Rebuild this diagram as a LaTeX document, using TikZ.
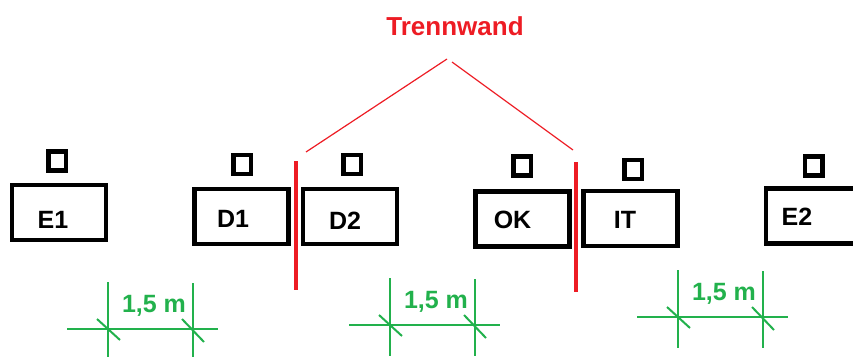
\documentclass[tikz,border=0pt]{standalone}
\usepackage{fontspec}
\setmainfont{Liberation Sans}
\definecolor{wandrot}{RGB}{237,28,36}
\definecolor{massgruen}{RGB}{34,177,76}

\begin{document}
\begin{tikzpicture}[x=1pt,y=-1pt]
\tikzstyle{tisch} = [draw, line width=4.5pt, minimum width=94pt, minimum height=55pt, inner sep=0pt]
\tikzstyle{stuhl} = [draw, line width=4.5pt, minimum width=17.5pt, minimum height=19pt, inner sep=0pt]
\tikzstyle{platz} = [font=\bfseries\fontsize{25}{30}\selectfont, anchor=base, inner sep=0pt]
\tikzstyle{wand} = [wandrot, line width=4pt]
\tikzstyle{mass} = [massgruen, line width=2pt]
\useasboundingbox (0,0) rectangle (853,356);
% Tische
\node[tisch] (e1) at (59,212.5) {};
\node[tisch] (d1) at (241.5,216.5) {};
\node[tisch] (d2) at (350,216.5) {};
\node[tisch] (ok) at (522.5,219) {};
\node[tisch] (it) at (630.5,218.5) {};
\node[tisch] (e2) at (813,216) {};
\node[platz] (e1t) at (53,228) {E1};
\node[platz] (d1t) at (233,227) {D1};
\node[platz] (d2t) at (345,229) {D2};
\node[platz] (okt) at (512.5,228) {OK};
\node[platz] (itt) at (625,228) {IT};
\node[platz] (e2t) at (797,225) {E2};
% Stuehle
\node[stuhl] (e1s) at (57,161) {};
\node[stuhl] (d1s) at (242,164.5) {};
\node[stuhl] (d2s) at (352,164.5) {};
\node[stuhl] (oks) at (522,166) {};
\node[stuhl] (its) at (633,169.5) {};
\node[stuhl] (e2s) at (813.5,166) {};
% Trennwaende
\node[font=\bfseries\fontsize{26}{31}\selectfont, wandrot, anchor=base, inner sep=0pt] (trennwand) at (455,35) {Trennwand};
\coordinate (tw1) at (447,59);
\coordinate (tw2) at (452,62);
\coordinate (z1) at (306,152);
\coordinate (z2) at (573,150);
\coordinate (w1o) at (296,161);
\coordinate (w1u) at (296,290);
\coordinate (w2o) at (576,162);
\coordinate (w2u) at (576,292);
\draw[wand] (w1o) -- (w1u);
\draw[wand] (w2o) -- (w2u);
\draw[wandrot, line width=1.2pt] (tw1) -- (z1);
\draw[wandrot, line width=1.2pt] (tw2) -- (z2);
% Abstaende
\foreach \xl/\yh/\i in {108/329/1, 390/325/2, 678/317/3} {
  \draw[mass] (\xl-41,\yh) -- (\xl+110,\yh);
  \draw[mass] (\xl,\yh-47) -- (\xl,\yh+31);
  \draw[mass] (\xl+85,\yh-46) -- (\xl+85,\yh+31);
  \draw[mass] (\xl-11,\yh-10) -- (\xl+12,\yh+11);
  \draw[mass] (\xl+74,\yh-10) -- (\xl+96,\yh+13);
  \node[platz, massgruen] (mass\i) at (\xl+46,\yh-17) {1,5 m};
}
\end{tikzpicture}
\end{document}
